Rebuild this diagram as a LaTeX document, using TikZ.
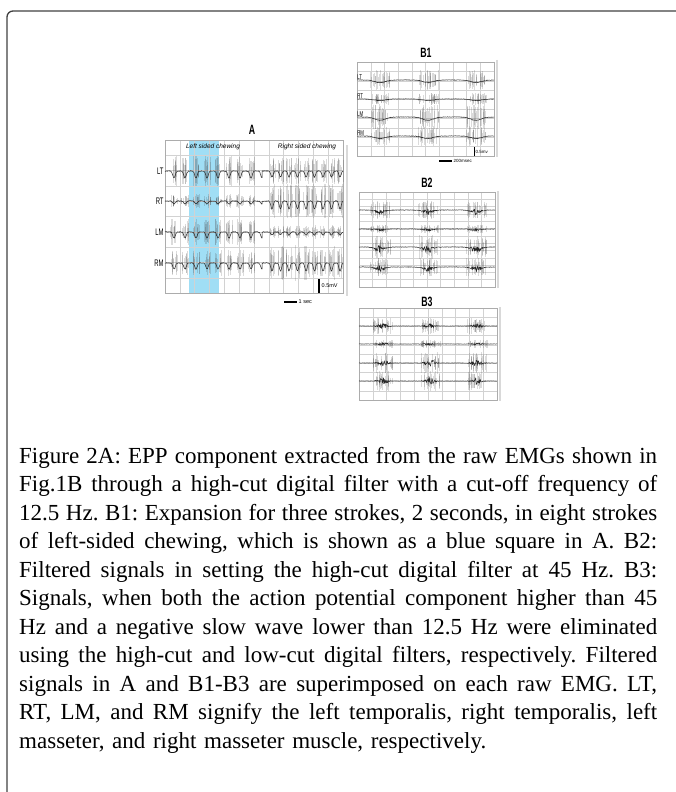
\documentclass[tikz,border=0pt]{standalone}
\usepackage{fontspec}
\setmainfont{Liberation Serif}
\setsansfont{Liberation Sans}
\usetikzlibrary{positioning}

\definecolor{band}{RGB}{160,222,245}

% caption font
\newcommand{\capfont}{\fontsize{23}{28.5}\selectfont\frenchspacing}

\tikzset{
    frameline/.style={draw=black!75, line width=1.3pt, rounded corners=6pt},
    gridline/.style={draw=gray!35, line width=0.4pt},
    boxline/.style={draw=gray!65, line width=0.6pt},
    shadowline/.style={draw=gray!30, line width=1.5pt},
    burstline/.style={draw=black!70, line width=0.35pt, opacity=0.2},
    traceline/.style={draw=black!85, line width=0.5pt, line join=round},
    scalebar/.style={draw=black, line width=1.1pt},
    paneltitle/.style={font=\sffamily\bfseries\fontsize{13.5}{14}\selectfont, xscale=0.65, inner sep=0pt},
    rowlabel/.style={font=\sffamily\fontsize{9.5}{10}\selectfont, xscale=0.62, inner sep=0.5pt},
    blabel/.style={font=\sffamily\fontsize{7}{7}\selectfont, xscale=0.62, inner sep=0.3pt},
    headtext/.style={font=\sffamily\itshape\fontsize{6.5}{7}\selectfont, inner sep=0pt},
    scaletext/.style={font=\sffamily\fontsize{5.5}{6}\selectfont, inner sep=0.5pt},
    caption/.style={font=\capfont, text width=638pt, align=left, inner sep=0pt},
    declare function={pk(\xa,\xb,\xc,\xd)=exp(-((mod(\xa-\xb,\xc)-\xc/2)^2)/\xd);}
}

% grey bursts of raw EMG: positions, row, half height, count, spread
\newcommand{\bursts}[5]{%
    \foreach \bx in {#1}{
        \foreach \k in {1,...,#4}{
            \pgfmathsetmacro\sx{\bx+#5*rand}
            \pgfmathsetmacro\sh{#3*(0.25+0.75*rnd)}
            \draw[burstline] (\sx,#2-\sh) -- (\sx,#2+\sh);
        }}}

% grid of a panel: corners, columns, rows
\newcommand{\panelgrid}[6]{%
    \foreach \i in {1,...,#5} \draw[gridline] ({#1+(#3-#1)*\i/#5},#2) -- ({#1+(#3-#1)*\i/#5},#4);
    \foreach \j in {1,...,#6} \draw[gridline] (#1,{#2+(#4-#2)*\j/#6}) -- (#3,{#2+(#4-#2)*\j/#6});
    \draw[boxline] (#1,#2) rectangle (#3,#4);
}

% one caption line, word spaces spread to the full width
\newcommand{\capline}[1]{\leavevmode\hbox to 638pt{\spaceskip=0.25em plus 1fil minus 0.1em\relax #1}}

\begin{document}
\begin{tikzpicture}[x=1pt, y=-1pt]
    \pgfmathsetseed{7}
    \useasboundingbox (0,0) rectangle (676,792);
    \draw[frameline] (7,792) -- (7,11) -- (676,11);

    % panel A
    \fill[band] (189,140) rectangle (219,293);
    \panelgrid{165}{140}{343}{293}{12}{10}
    \draw[shadowline] (347,145) -- (347,296);
    \node[paneltitle] (titleA) at (252,130) {A};
    \node[headtext] (leftchew) at (213,147) {Left sided chewing};
    \node[headtext] (rightchew) at (307,147) {Right sided chewing};
    \foreach \ry/\lab/\al/\ar in {171/LT/7/6, 201/RT/3/8, 232/LM/6/3, 263/RM/6/8} {
        \bursts{174,185,...,251}{\ry}{2.2*\al}{10}{3.5}
        \bursts{272,280.5,...,340}{\ry}{2.2*\ar}{9}{3}
        \draw[traceline] plot[domain=165:262, samples=240] (\x, {\ry + \al*pk(\x,168.5,11,3) + 0.4*rand})
            -- plot[domain=262:343, samples=200] (\x, {\ry + \ar*pk(\x,267.75,8.5,2.5) + 0.4*rand});
        \node[rowlabel, anchor=east] (A\lab) at (164,\ry) {\lab};
    }
    \draw[scalebar] (319,279) -- (319,293);
    \node[scaletext, anchor=west] (mvA) at (321,286) {0.5mV};
    \draw[scalebar] (284,302) -- (297,302);
    \node[scaletext, anchor=west] (secA) at (298,302) {1 sec};

    % panel B1
    \panelgrid{357}{62}{494}{156}{10}{10}
    \draw[shadowline] (497,60) -- (497,157);
    \node[paneltitle] (titleB1) at (426,53) {B1};
    \foreach \ry/\lab/\rh in {80/LT/10, 99/RT/6, 117/LM/13, 136/RM/10} {
        \bursts{380,428,476}{\ry}{\rh}{22}{10}
        \draw[traceline] plot[domain=357:494, samples=280] (\x, {\ry + 0.25*\rh*pk(\x,356,48,60) + 0.3*rand});
        \node[blabel, anchor=south west] (B1\lab) at (357,\ry-0.5) {\lab};
    }
    \draw[scalebar, line width=0.8pt] (474,147) -- (474,156);
    \node[scaletext, anchor=west, font=\sffamily\fontsize{4.5}{5}\selectfont] (mvB) at (475,152) {0.5mv};
    \draw[scalebar] (439,161) -- (452,161);
    \node[scaletext, anchor=west, font=\sffamily\fontsize{4.5}{5}\selectfont] (msB) at (453,161) {200msec};

    % panel B2
    \panelgrid{359}{192}{495}{287}{10}{13}
    \draw[shadowline] (498,191) -- (498,288);
    \node[paneltitle] (titleB2) at (427,183) {B2};
    \foreach \ry/\rh in {210/9, 229/4, 247/12, 267/9} {
        \bursts{380,428,476}{\ry}{\rh}{22}{10}
        \draw[traceline] plot[domain=359:495, samples=300] (\x, {\ry + 0.2*\rh*pk(\x,356,48,50) + 0.35*\rh*pk(\x,356,48,25)*rand + 0.3*rand});
    }

    % panel B3
    \panelgrid{359}{308}{497}{400}{10}{10}
    \draw[shadowline] (500,307) -- (500,401);
    \node[paneltitle] (titleB3) at (427,302) {B3};
    \foreach \ry/\rh in {326/8, 344/4, 363/11, 381/10} {
        \bursts{383,430,477}{\ry}{\rh}{22}{10}
        \draw[traceline] plot[domain=359:497, samples=300] (\x, {\ry + 0.35*\rh*pk(\x,359.5,47,30)*rand + 0.25*rand});
    }

    % caption
    \node[caption, anchor=base west] (caption) at (19,463) {%
        \capline{Figure 2A: EPP component extracted from the raw EMGs shown in}\\
        \capline{Fig.1B through a high-cut digital filter with a cut-off frequency of}\\
        \capline{12.5 Hz. B1: Expansion for three strokes, 2 seconds, in eight strokes}\\
        \capline{of left-sided chewing, which is shown as a blue square in A. B2:}\\
        \capline{Filtered signals in setting the high-cut digital filter at 45 Hz. B3:}\\
        \capline{Signals, when both the action potential component higher than 45}\\
        \capline{Hz and a negative slow wave lower than 12.5 Hz were eliminated}\\
        \capline{using the high-cut and low-cut digital filters, respectively. Filtered}\\
        \capline{signals in A and B1-B3 are superimposed on each raw EMG. LT,}\\
        \capline{RT, LM, and RM signify the left temporalis, right temporalis, left}\\
        masseter, and right masseter muscle, respectively.};
\end{tikzpicture}
\end{document}
